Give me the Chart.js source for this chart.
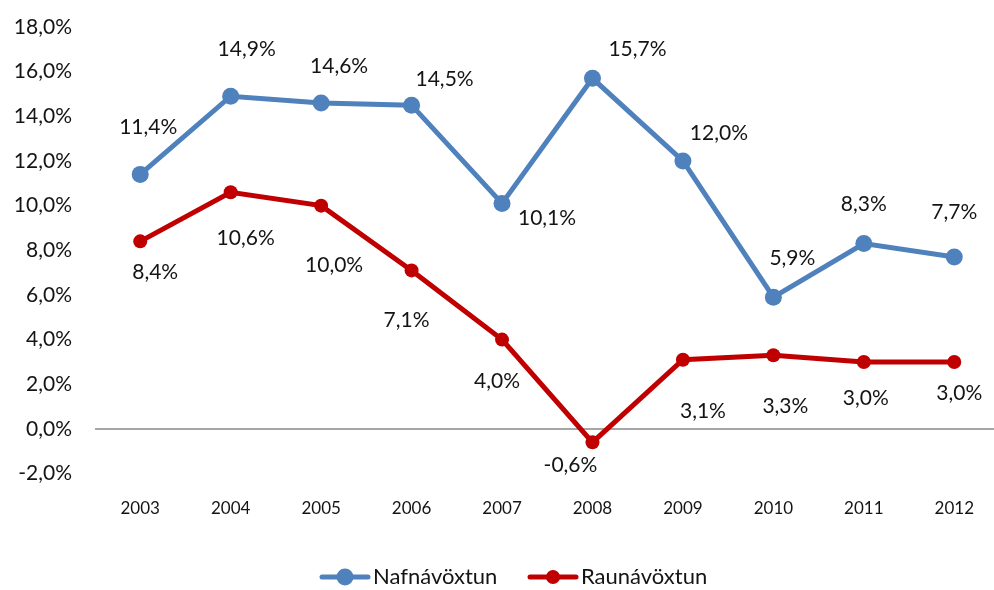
<!DOCTYPE html>
<html lang="is">
<head>
  <meta charset="UTF-8">
  <title>Nafnávöxtun og raunávöxtun</title>
  <script src="https://cdn.jsdelivr.net/npm/chart.js"></script>
  <style>
    html, body { margin: 0; padding: 0; background: #fff; overflow: hidden; }
    .wrap { width: 1008px; height: 590px; position: relative; }
  </style>
</head>
<body>
  <div class="wrap"><canvas id="grafVoxtun"></canvas></div>

  <script>
    const years = ['2003', '2004', '2005', '2006', '2007', '2008', '2009', '2010', '2011', '2012'];
    const nafnavoxtun = [11.4, 14.9, 14.6, 14.5, 10.1, 15.7, 12.0, 5.9, 8.3, 7.7];
    const raunavoxtun = [8.4, 10.6, 10.0, 7.1, 4.0, -0.6, 3.1, 3.3, 3.0, 3.0];
    const yTicks = [-2, 0, 2, 4, 6, 8, 10, 12, 14, 16, 18];

    // where each value label sits relative to its point (dx, dy)
    const nafnLabelPos = [[8,-47],[16,-47],[18,-37],[33,-26],[45,15],[45,-29],[36,-28],[19,-39],[0,-39],[0,-45]];
    const raunLabelPos = [[15,31],[15,46],[13,60],[-5,50],[-5,42],[-22,23],[20,52],[12,51],[2,36],[5,31]];

    const BLUE = '#4F81BD';
    const RED = '#C00000';
    const FONT = 'Lato, "Liberation Sans", sans-serif';
    const TEXT = '#141414';

    const fmt = v => v.toFixed(1).replace('.', ',') + '%';

    const gildaMerki = {
      id: 'gildaMerki',
      afterDatasetsDraw(chart) {
        const ctx = chart.ctx;
        ctx.save();
        ctx.font = '21px ' + FONT;
        ctx.fillStyle = TEXT;
        ctx.textAlign = 'center';
        ctx.textBaseline = 'middle';
        const pos = [nafnLabelPos, raunLabelPos];
        chart.data.datasets.forEach((ds, i) => {
          chart.getDatasetMeta(i).data.forEach((pt, j) => {
            ctx.fillText(fmt(ds.data[j]), pt.x + pos[i][j][0], pt.y + pos[i][j][1]);
          });
        });
        ctx.restore();
      }
    };

    // legend drawn by hand: line + dot sample, then the name
    const skyring = {
      id: 'skyring',
      afterDraw(chart) {
        const ctx = chart.ctx;
        const y = chart.height - 13;
        const items = [
          { x: 320, ds: chart.data.datasets[0], r: 8.5 },
          { x: 528, ds: chart.data.datasets[1], r: 7 }
        ];
        ctx.save();
        items.forEach(it => {
          ctx.strokeStyle = it.ds.borderColor;
          ctx.fillStyle = it.ds.borderColor;
          ctx.lineWidth = 5;
          ctx.lineCap = 'round';
          ctx.beginPath(); ctx.moveTo(it.x + 2, y); ctx.lineTo(it.x + 48, y); ctx.stroke();
          ctx.beginPath(); ctx.arc(it.x + 25, y, it.r, 0, Math.PI * 2); ctx.fill();
          ctx.fillStyle = TEXT;
          ctx.font = '22px ' + FONT;
          ctx.textAlign = 'left';
          ctx.textBaseline = 'middle';
          ctx.fillText(it.ds.label, it.x + 53, y);
        });
        ctx.restore();
      }
    };

    new Chart(document.getElementById('grafVoxtun'), {
      type: 'line',
      data: {
        labels: years,
        datasets: [
          {
            label: 'Nafnávöxtun',
            data: nafnavoxtun,
            borderColor: BLUE,
            backgroundColor: BLUE,
            borderWidth: 5,
            pointRadius: 8.5,
            pointHoverRadius: 8.5,
            pointBorderWidth: 0,
            tension: 0
          },
          {
            label: 'Raunávöxtun',
            data: raunavoxtun,
            borderColor: RED,
            backgroundColor: RED,
            borderWidth: 5,
            pointRadius: 7,
            pointHoverRadius: 7,
            pointBorderWidth: 0,
            tension: 0
          }
        ]
      },
      options: {
        responsive: true,
        maintainAspectRatio: false,
        animation: false,
        layout: { padding: { top: 27, right: 0, left: 0, bottom: 54 } },
        plugins: {
          legend: { display: false },
          tooltip: { enabled: false }
        },
        scales: {
          x: {
            offset: true,
            grid: { display: false },
            border: { display: false },
            ticks: { color: TEXT, font: { family: FONT, size: 17 }, padding: 17, maxRotation: 0 }
          },
          y: {
            min: -2,
            max: 18,
            afterBuildTicks: axis => { axis.ticks = yTicks.map(v => ({ value: v })); },
            afterFit: axis => { axis.width = 95; },
            border: { display: false },
            grid: {
              drawTicks: true,
              tickLength: 21,
              tickColor: 'rgba(0,0,0,0)',
              lineWidth: 2,
              color: c => (c.tick && c.tick.value === 0) ? '#A6A6A6' : 'rgba(0,0,0,0)'
            },
            ticks: {
              color: TEXT,
              font: { family: FONT, size: 21 },
              padding: 2,
              callback: v => v.toFixed(1).replace('.', ',') + '%'
            }
          }
        }
      },
      plugins: [gildaMerki, skyring]
    });
  </script>
</body>
</html>
